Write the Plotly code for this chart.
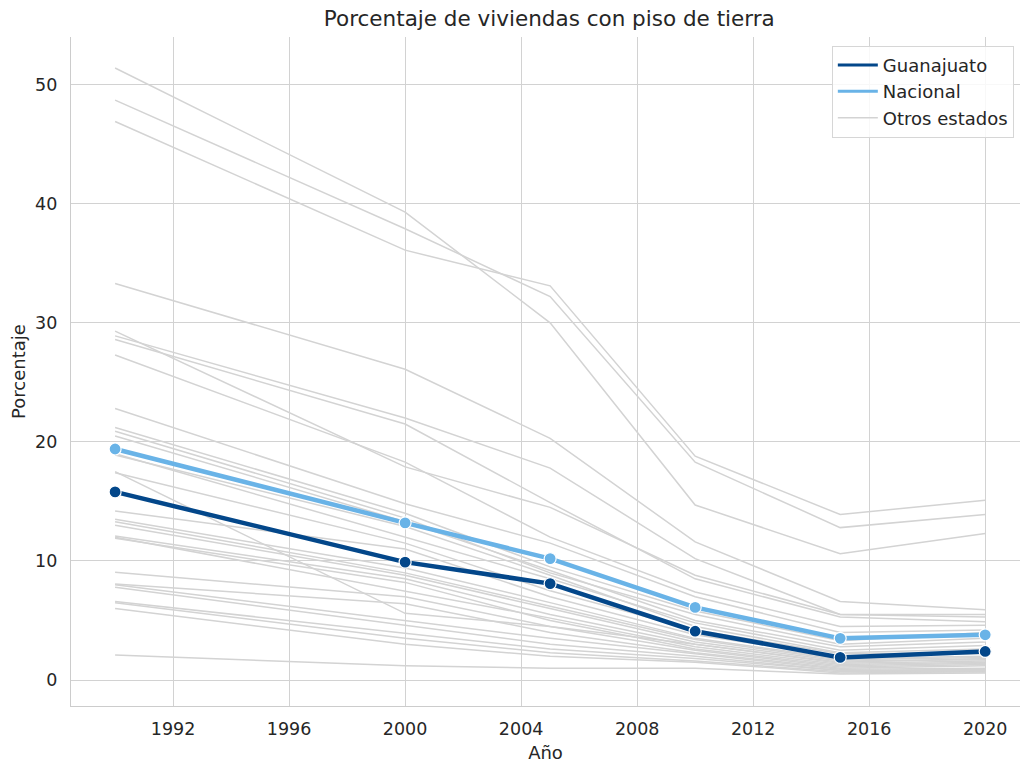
import plotly.graph_objects as go

years = [1990, 2000, 2005, 2010, 2015, 2020]

guanajuato = [15.8, 9.9, 8.1, 4.1, 1.9, 2.4]
nacional = [19.4, 13.2, 10.2, 6.1, 3.5, 3.8]

otros_estados = [
    [51.4, 39.3, 30.0, 14.7, 10.6, 12.3],
    [48.7, 37.9, 32.2, 18.3, 12.8, 13.9],
    [46.9, 36.1, 33.1, 18.8, 13.9, 15.1],
    [33.3, 26.1, 20.3, 11.6, 6.6, 5.9],
    [29.3, 17.9, 14.5, 8.8, 5.5, 5.5],
    [28.9, 22.0, 17.8, 10.2, 5.5, 5.3],
    [28.6, 21.5, 14.9, 8.5, 5.3, 4.9],
    [27.3, 18.3, 12.0, 7.4, 4.5, 4.6],
    [22.8, 14.8, 11.5, 7.0, 4.0, 4.2],
    [21.2, 14.0, 9.5, 5.8, 3.3, 4.0],
    [20.9, 13.6, 9.0, 5.5, 3.0, 3.5],
    [20.5, 13.3, 9.2, 5.0, 2.8, 3.2],
    [19.0, 12.0, 8.5, 4.8, 2.5, 2.9],
    [18.9, 12.9, 8.8, 4.5, 2.3, 2.6],
    [17.5, 5.6, 4.5, 3.0, 1.5, 1.8],
    [17.4, 11.5, 7.5, 4.2, 2.2, 2.3],
    [14.2, 11.0, 7.0, 3.8, 2.0, 2.2],
    [13.5, 9.4, 6.5, 3.5, 1.8, 2.0],
    [13.3, 9.0, 6.2, 3.4, 1.7, 1.9],
    [13.0, 8.8, 6.0, 3.2, 1.6, 1.7],
    [12.1, 8.5, 5.5, 3.0, 1.4, 1.6],
    [12.0, 7.5, 5.2, 2.8, 1.3, 1.5],
    [11.9, 8.2, 5.0, 2.6, 1.2, 1.4],
    [9.05, 7.0, 4.5, 2.5, 1.1, 1.3],
    [8.07, 6.4, 4.0, 2.3, 1.0, 1.2],
    [8.0, 5.0, 3.5, 2.2, 0.9, 1.0],
    [7.8, 4.6, 3.0, 2.0, 0.8, 0.9],
    [6.6, 3.9, 2.6, 1.8, 0.8, 0.8],
    [6.5, 3.5, 2.3, 1.6, 0.7, 0.7],
    [6.0, 3.0, 2.0, 1.5, 0.6, 0.7],
    [2.1, 1.2, 1.0, 1.0, 0.5, 0.6],
]

x_ticks = [1992, 1996, 2000, 2004, 2008, 2012, 2016, 2020]
y_ticks = [0, 10, 20, 30, 40, 50]

C_GTO = "#03478a"
C_NAC = "#69b3e7"
C_OTR = "#d3d3d3"

fig = go.Figure()

for serie in otros_estados:
    fig.add_trace(go.Scatter(x=years, y=serie, mode="lines",
                             line=dict(color=C_OTR, width=1.5),
                             showlegend=False, hoverinfo="skip"))

fig.add_trace(go.Scatter(x=years, y=nacional, mode="lines+markers",
                         line=dict(color=C_NAC, width=4.5),
                         marker=dict(size=12, color=C_NAC, line=dict(color="white", width=1.2)),
                         showlegend=False))
fig.add_trace(go.Scatter(x=years, y=guanajuato, mode="lines+markers",
                         line=dict(color=C_GTO, width=4.5),
                         marker=dict(size=12, color=C_GTO, line=dict(color="white", width=1.2)),
                         showlegend=False))

# legend entries (lines only)
fig.add_trace(go.Scatter(x=[None], y=[None], mode="lines", name="Guanajuato",
                         line=dict(color=C_GTO, width=3)))
fig.add_trace(go.Scatter(x=[None], y=[None], mode="lines", name="Nacional",
                         line=dict(color=C_NAC, width=3)))
fig.add_trace(go.Scatter(x=[None], y=[None], mode="lines", name="Otros estados",
                         line=dict(color=C_OTR, width=1.5)))

fig.update_layout(
    width=1021, height=767,
    margin=dict(l=71, r=1, t=37, b=61, autoexpand=False),
    paper_bgcolor="white", plot_bgcolor="white",
    font=dict(family="DejaVu Sans", size=17.5, color="#262626"),
    title=dict(text="Porcentaje de viviendas con piso de tierra",
               x=0.538, xanchor="center", y=0.976, yanchor="middle",
               font=dict(size=21.5, color="#262626")),
    legend=dict(x=0.9935, y=0.987, xanchor="right", yanchor="top",
                bgcolor="rgba(255,255,255,0.85)", bordercolor="#d6d6d6", borderwidth=1,
                font=dict(size=18, color="#262626"), itemwidth=40,
                tracegroupgap=0),
    showlegend=True,
)

fig.update_xaxes(range=[1988.48, 2021.2], tickvals=x_ticks, ticktext=[str(t) for t in x_ticks],
                 showgrid=True, gridcolor="#d2d2d2", gridwidth=1.3,
                 showline=True, linecolor="#cccccc", linewidth=1.3, zeroline=False,
                 ticks="", ticklabelstandoff=7, automargin=False,
                 tickfont=dict(size=17.5),
                 title=dict(text="Año", font=dict(size=18, color="#262626"), standoff=8))
fig.update_yaxes(range=[-2.18, 54.0], tickvals=y_ticks, ticktext=[str(t) for t in y_ticks],
                 showgrid=True, gridcolor="#d2d2d2", gridwidth=1.3,
                 showline=True, linecolor="#cccccc", linewidth=1.3, zeroline=False,
                 ticks="", ticklabelstandoff=9, automargin=False,
                 tickfont=dict(size=17.5),
                 title=dict(text="Porcentaje", font=dict(size=18, color="#262626"), standoff=4))

fig.write_html("out.html", config={"displayModeBar": False},
               post_script="document.body.style.margin='0';document.body.style.overflow='hidden';")
